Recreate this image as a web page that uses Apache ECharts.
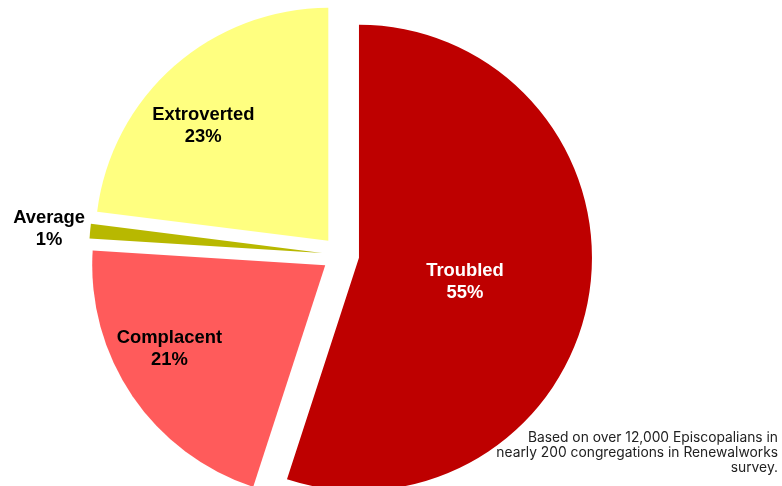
<!DOCTYPE html>
<html>
<head>
<meta charset="utf-8">
<script src="https://cdn.jsdelivr.net/npm/echarts@6/dist/echarts.min.js"></script>
<style>
html,body{margin:0;padding:0;background:#fff;}
#chart{width:782px;height:486px;}
</style>
</head>
<body>
<div id="chart"></div>
<script>
// ---- data ----
const categories = ['Troubled', 'Complacent', 'Average', 'Extroverted'];
const values = [55, 21, 1, 23];
const percentLabels = ['55%', '21%', '1%', '23%'];
const footnoteLines = [
  'Based on over 12,000 Episcopalians in',
  'nearly 200 congregations in Renewalworks',
  'survey.'
];

// ---- styles ----
const colors = ['#BE0000', '#FF5B5B', '#B8B800', '#FFFF80'];
const labelColors = ['#FFFFFF', '#000000', '#000000', '#000000'];
const labelShift = [[-12, 6], [-57, 16], [-154, -13], [-46, -25]];

const chart = echarts.init(document.getElementById('chart'), null, {renderer: 'canvas'});

const pieData = categories.map((c, i) => ({
  name: c,
  value: values[i],
  selected: true,
  itemStyle: {color: colors[i]},
  label: {color: labelColors[i]}
}));

chart.setOption({
  animation: false,
  backgroundColor: '#ffffff',
  series: [{
    type: 'pie',
    center: [340.6, 254.8],
    radius: [0, 233],
    startAngle: 90,
    clockwise: true,
    selectedMode: 'multiple',
    selectedOffset: 18.6,
    avoidLabelOverlap: false,
    minShowLabelAngle: 0,
    data: pieData,
    label: {
      show: true,
      position: 'inside',
      fontFamily: 'Liberation Sans, Arial, sans-serif',
      fontWeight: 'bold',
      fontSize: 18.4,
      lineHeight: 22,
      align: 'center',
      formatter: p => p.name + '\n' + percentLabels[p.dataIndex]
    },
    labelLine: {show: false},
    labelLayout: p => ({dx: labelShift[p.dataIndex][0], dy: labelShift[p.dataIndex][1]}),
    emphasis: {disabled: true, scale: false},
    select: {itemStyle: {borderWidth: 0}}
  }],
  graphic: footnoteLines.map((t, i) => ({
    type: 'text',
    x: 778,
    y: 431 + i * 15,
    style: {
      text: t,
      fontFamily: 'Inter, Lato, sans-serif',
      fontSize: 13.8,
      fill: '#222222',
      align: 'right',
      verticalAlign: 'top'
    }
  }))
});
</script>
</body>
</html>
